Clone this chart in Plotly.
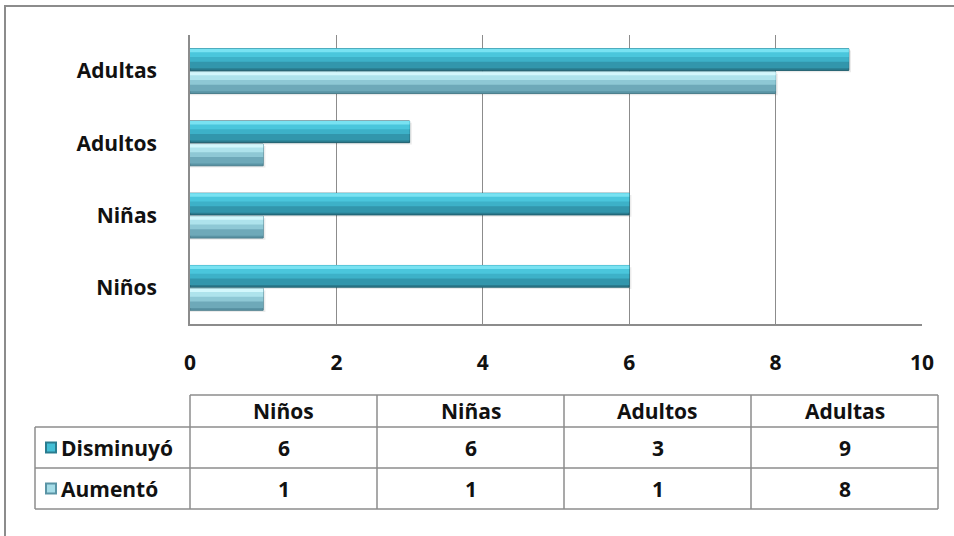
import plotly.graph_objects as go

# Data
categories = ["Niños", "Niñas", "Adultos", "Adultas"]
disminuyo = [6, 6, 3, 9]
aumento = [1, 1, 1, 8]
series_names = ["Disminuyó", "Aumentó"]

FONT = "Open Sans"
FSIZE = 21
W, H = 954, 536
L, R, T, B = 190, 32, 35, 212
PW, PH = W - L - R, H - T - B


def px_x(px):
    return (px - L) / PW


def px_y(py):
    return (H - B - py) / PH


# Bevelled bar layers: (offset within bar, thickness fraction, colour)
bar_w = 0.30
dis_layers = [
    (0.00, 1.00, "#2A7C8F"),
    (0.10, 0.90, "#3296AC"),
    (0.40, 0.60, "#3DB1C8"),
    (0.62, 0.38, "#4AC6DC"),
    (0.84, 0.16, "#78E2F2"),
]
aum_layers = [
    (0.00, 1.00, "#5A94A5"),
    (0.10, 0.90, "#6EA9B9"),
    (0.40, 0.60, "#8EC8D5"),
    (0.62, 0.38, "#AEE3EC"),
    (0.84, 0.16, "#D3F7FC"),
]

fig = go.Figure()

idx = list(range(len(categories)))


def add_series(values, base_off, layers, name, edge):
    # soft drop shadow
    fig.add_trace(go.Bar(
        y=idx, x=[v + 0.03 for v in values], orientation="h",
        offset=base_off - 0.025, width=bar_w,
        marker=dict(color="rgba(0,0,0,0.08)", line=dict(width=0)),
        hoverinfo="skip", showlegend=False,
    ))
    for i, (off, frac, col) in enumerate(layers):
        fig.add_trace(go.Bar(
            y=idx, x=values, orientation="h",
            offset=base_off + off * bar_w, width=frac * bar_w,
            marker=dict(color=col,
                        line=dict(width=1 if i == 0 else 0, color=edge)),
            name=name, showlegend=False,
            hoverinfo="x+name" if i == 0 else "skip",
        ))


add_series(aumento, -0.31, aum_layers, series_names[1], "#4C7F8D")
add_series(disminuyo, 0.01, dis_layers, series_names[0], "#1F5F6E")

shapes = []
annotations = []

# Outer chart frame (left and top edges)
shapes.append(dict(type="line", xref="paper", yref="paper",
                   x0=px_x(5), x1=px_x(5), y0=px_y(6), y1=px_y(540),
                   line=dict(color="#8C8C8C", width=2)))
shapes.append(dict(type="line", xref="paper", yref="paper",
                   x0=px_x(4), x1=px_x(960), y0=px_y(6), y1=px_y(6),
                   line=dict(color="#8C8C8C", width=2)))

# Data table below the chart
col_edges = [190, 377, 564, 751, 938]
row_edges = [395, 427, 468, 509]
tbl_left = 35
grid = dict(color="#8C8C8C", width=1.5)

# horizontal rules
shapes.append(dict(type="line", xref="paper", yref="paper",
                   x0=px_x(col_edges[0]), x1=px_x(col_edges[-1]),
                   y0=px_y(row_edges[0]), y1=px_y(row_edges[0]), line=grid))
for ry in row_edges[1:]:
    shapes.append(dict(type="line", xref="paper", yref="paper",
                       x0=px_x(tbl_left), x1=px_x(col_edges[-1]),
                       y0=px_y(ry), y1=px_y(ry), line=grid))
# vertical rules
shapes.append(dict(type="line", xref="paper", yref="paper",
                   x0=px_x(tbl_left), x1=px_x(tbl_left),
                   y0=px_y(row_edges[1]), y1=px_y(row_edges[-1]), line=grid))
for cx in col_edges:
    shapes.append(dict(type="line", xref="paper", yref="paper",
                       x0=px_x(cx), x1=px_x(cx),
                       y0=px_y(row_edges[0]), y1=px_y(row_edges[-1]), line=grid))

tfont = dict(family=FONT, size=FSIZE, color="#111111", weight=700)

# header
for j, cat in enumerate(categories):
    cxm = (col_edges[j] + col_edges[j + 1]) / 2
    annotations.append(dict(xref="paper", yref="paper", x=px_x(cxm),
                            y=px_y((row_edges[0] + row_edges[1]) / 2),
                            text=cat, showarrow=False, font=tfont,
                            xanchor="center", yanchor="middle"))

# rows
rows = [(series_names[0], disminuyo, ("#2A7C8F", "#44BFD6")),
        (series_names[1], aumento, ("#5A94A5", "#A6DDE8"))]
for r, (label, vals, (dark, light)) in enumerate(rows):
    yc = (row_edges[r + 1] + row_edges[r + 2]) / 2
    # legend key
    shapes.append(dict(type="rect", xref="paper", yref="paper",
                       x0=px_x(45), x1=px_x(57), y0=px_y(yc + 6), y1=px_y(yc - 6),
                       fillcolor=dark, line=dict(width=0)))
    shapes.append(dict(type="rect", xref="paper", yref="paper",
                       x0=px_x(47), x1=px_x(55), y0=px_y(yc + 4), y1=px_y(yc - 4),
                       fillcolor=light, line=dict(width=0)))
    annotations.append(dict(xref="paper", yref="paper", x=px_x(59), y=px_y(yc),
                            text=label, showarrow=False, font=tfont,
                            xanchor="left", yanchor="middle"))
    for j, v in enumerate(vals):
        cxm = (col_edges[j] + col_edges[j + 1]) / 2
        annotations.append(dict(xref="paper", yref="paper", x=px_x(cxm), y=px_y(yc),
                                text=str(v), showarrow=False, font=tfont,
                                xanchor="center", yanchor="middle"))

fig.update_layout(
    width=W, height=H,
    margin=dict(l=L, r=R, t=T, b=B),
    paper_bgcolor="white", plot_bgcolor="white",
    barmode="overlay",
    showlegend=False,
    shapes=shapes,
    annotations=annotations,
    font=tfont,
    xaxis=dict(range=[0, 10], dtick=2, tick0=0,
               showgrid=True, gridcolor="#8C8C8C", gridwidth=1,
               showline=True, linecolor="#8C8C8C", linewidth=1.5,
               zeroline=False, ticks="", ticklabelstandoff=19,
               tickfont=tfont, fixedrange=True),
    yaxis=dict(tickmode="array", tickvals=idx, ticktext=categories,
               range=[-0.5, len(categories) - 0.5],
               showgrid=False, showline=True, linecolor="#8C8C8C", linewidth=1.5,
               zeroline=False, ticks="", ticklabelstandoff=27,
               tickfont=tfont, fixedrange=True),
)

fig.write_html("out.html", config={"displayModeBar": False})
